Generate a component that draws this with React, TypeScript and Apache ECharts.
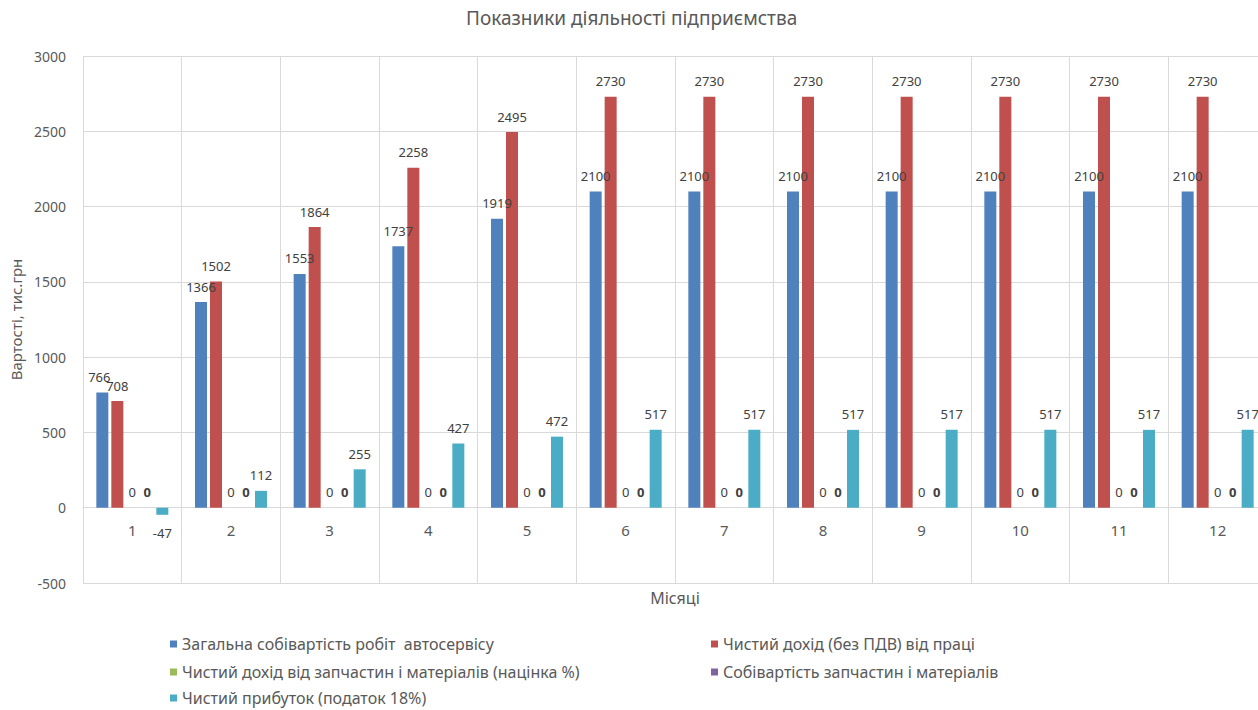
import React, { useEffect, useRef } from "react";
import * as echarts from "echarts";

const months = ["1", "2", "3", "4", "5", "6", "7", "8", "9", "10", "11", "12"];

const seriesNames = [
  "Загальна собівартість робіт  автосервісу",
  "Чистий дохід (без ПДВ) від праці",
  "Чистий дохід від запчастин і матеріалів (націнка %)",
  "Собівартість запчастин і матеріалів",
  "Чистий прибуток (податок 18%)",
];

const totalCost = [766, 1366, 1553, 1737, 1919, 2100, 2100, 2100, 2100, 2100, 2100, 2100];
const laborIncome = [708, 1502, 1864, 2258, 2495, 2730, 2730, 2730, 2730, 2730, 2730, 2730];
const partsIncome = [0, 0, 0, 0, 0, 0, 0, 0, 0, 0, 0, 0];
const partsCost = [0, 0, 0, 0, 0, 0, 0, 0, 0, 0, 0, 0];
const netProfit = [-47, 112, 255, 427, 472, 517, 517, 517, 517, 517, 517, 517];

const colors = ["#4F81BD", "#C0504D", "#9BBB59", "#8064A2", "#4BACC6"];

const FONT = "'Noto Sans', 'Open Sans', sans-serif";
const TEXT = "#595959";
const GRID_LINE = "#D9D9D9";

const Y_MIN = -500;
const Y_MAX = 3000;
const GRID_TOP = 56;
const GRID_HEIGHT = 527;

export default function App() {
  const ref = useRef<HTMLDivElement>(null);

  useEffect(() => {
    if (!ref.current) return;
    const chart = echarts.init(ref.current, undefined, { renderer: "svg" });

    const valueSets = [totalCost, laborIncome, partsIncome, partsCost, netProfit];

    const series = valueSets.map((vals, i) => ({
      name: seriesNames[i],
      type: "bar",
      barWidth: 12,
      barGap: "25%",
      itemStyle: { color: colors[i] },
      data: vals.map((v, j) => {
        if (v < 0) return { value: v, label: { position: "bottom", distance: 12 } };
        // nudge the first blue label so it clears its red neighbour
        if (i === 0 && j === 0) return { value: v, label: { offset: [-3, 0] } };
        return v;
      }),
      label: {
        show: true,
        position: "top",
        distance: 9,
        color: "#404040",
        fontSize: 13,
        fontFamily: FONT,
        fontWeight: i === 3 ? "bold" : "normal",
      },
    }));

    // two-column legend, one entry per legend component
    const legendSpots = [
      { left: 170, top: 636 },
      { left: 711, top: 636 },
      { left: 170, top: 664 },
      { left: 711, top: 664 },
      { left: 170, top: 690 },
    ];
    const legend = seriesNames.map((name, i) => ({
      data: [name],
      left: legendSpots[i].left,
      top: legendSpots[i].top,
      icon: "rect",
      itemWidth: 7,
      itemHeight: 7,
      padding: 0,
      textStyle: { color: TEXT, fontSize: 16, fontFamily: FONT },
    }));

    // category labels sit just below the zero line
    const zeroOffset = (GRID_HEIGHT * (0 - Y_MIN)) / (Y_MAX - Y_MIN);

    chart.setOption({
      animation: false,
      backgroundColor: "#ffffff",
      title: {
        text: "Показники діяльності підприємства",
        left: 466,
        top: 8,
        padding: 0,
        textStyle: { color: TEXT, fontSize: 19, fontWeight: "normal", fontFamily: FONT },
      },
      legend,
      grid: {
        left: 83,
        top: GRID_TOP,
        width: 1184,
        height: GRID_HEIGHT,
        outerBoundsMode: "none",
      },
      xAxis: {
        type: "category",
        data: months,
        offset: -zeroOffset,
        name: "Місяці",
        nameLocation: "middle",
        nameGap: 82,
        nameTextStyle: { color: TEXT, fontSize: 16, fontFamily: FONT },
        axisLine: { onZero: false, lineStyle: { color: GRID_LINE } },
        axisTick: { show: false },
        axisLabel: { color: TEXT, fontSize: 15, fontFamily: FONT, margin: 15 },
        splitLine: { show: true, lineStyle: { color: GRID_LINE } },
      },
      yAxis: {
        type: "value",
        min: Y_MIN,
        max: Y_MAX,
        interval: 500,
        name: "Вартості, тис.грн",
        nameLocation: "middle",
        nameGap: 59,
        nameTextStyle: { color: TEXT, fontSize: 15, fontFamily: FONT },
        axisLine: { show: false },
        axisTick: { show: false },
        axisLabel: {
          color: TEXT,
          fontSize: 14,
          fontFamily: FONT,
          margin: 17,
          formatter: (v: number) => String(v),
        },
        splitLine: { show: true, lineStyle: { color: GRID_LINE } },
      },
      series,
    });

    return () => chart.dispose();
  }, []);

  return (
    <div
      ref={ref}
      style={{ position: "fixed", left: 0, top: 0, width: 1258, height: 710 }}
    />
  );
}
